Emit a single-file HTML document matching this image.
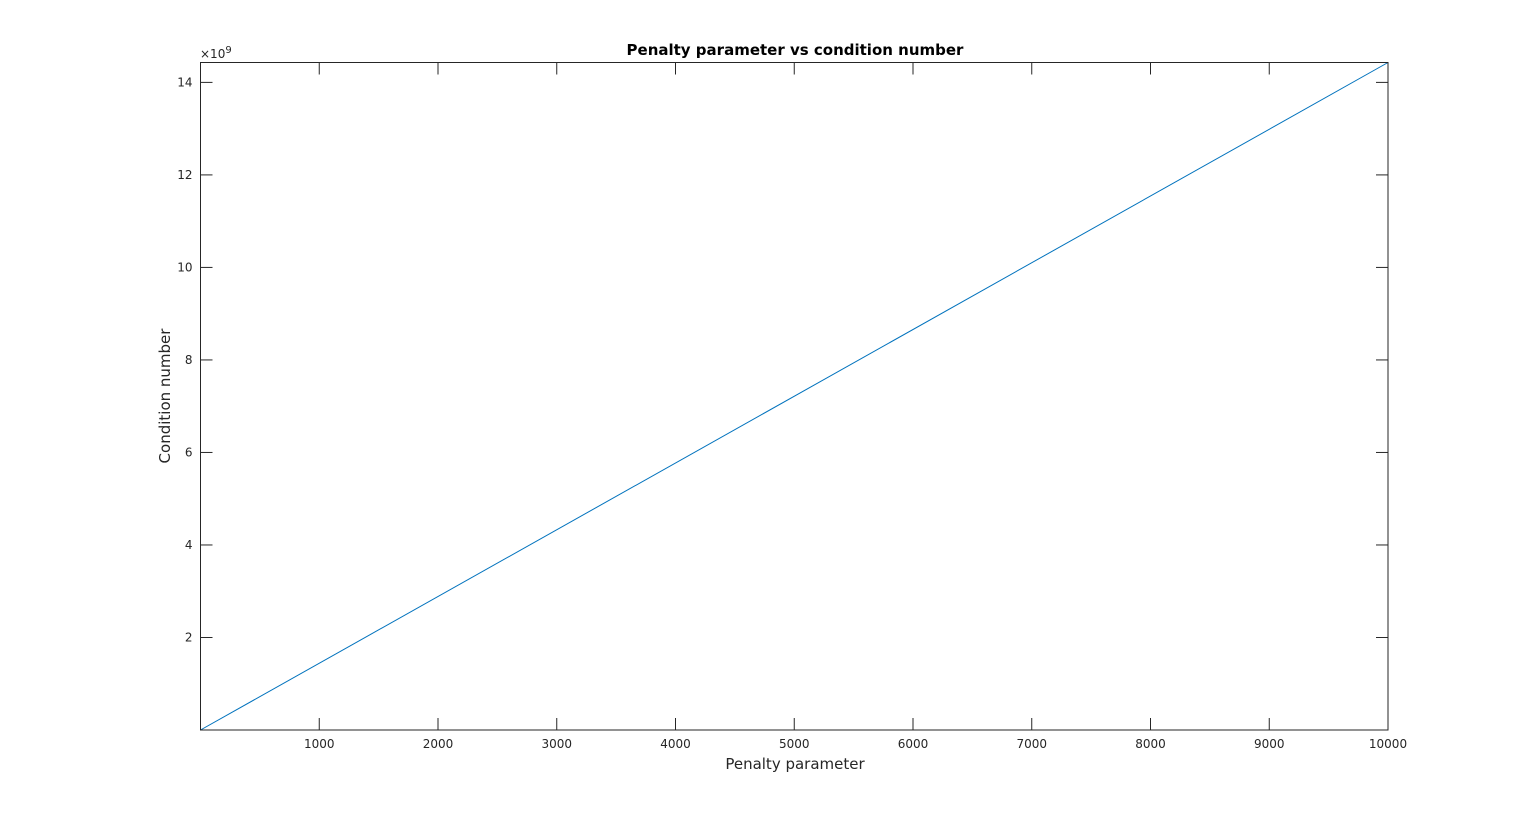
<!DOCTYPE html>
<html><head><meta charset="utf-8"><style>
html,body{margin:0;padding:0;background:#fff;}
svg{display:block;font-family:"DejaVu Sans","Liberation Sans",sans-serif;}
</style></head><body>
<svg id="chart" width="1535" height="821">
<rect width="1535" height="821" fill="#fff"/>
<text x="795" y="55" text-anchor="middle" font-size="15" font-weight="bold" fill="#000">Penalty parameter vs condition number</text>
<text x="795" y="769" text-anchor="middle" font-size="15" fill="#262626">Penalty parameter</text>
<text transform="translate(170,396) rotate(-90)" text-anchor="middle" font-size="15" fill="#262626">Condition number</text>
<text x="200" y="58" font-size="12" fill="#262626">×10<tspan dy="-5" font-size="10">9</tspan></text>
<g id="ticks"></g>
<g id="series"></g>
<rect x="200.5" y="62.5" width="1187.5" height="667.5" fill="none" stroke="#262626" stroke-width="1"/>
</svg>
<script>
const xTicks=[1000,2000,3000,4000,5000,6000,7000,8000,9000,10000];
const yTicks=[2,4,6,8,10,12,14];
const xVals=[0,10000];
const yVals=[0,14.43];
const L=200.5,R=1388,T=62.5,B=730;
const xMin=0,xMax=10000,yMin=0,yMax=14.43;
const sx=v=>L+(v-xMin)/(xMax-xMin)*(R-L);
const sy=v=>B-(v-yMin)/(yMax-yMin)*(B-T);
const NS='http://www.w3.org/2000/svg';
const tg=document.getElementById('ticks');
function mk(tag,attrs,parent){const e=document.createElementNS(NS,tag);for(const k in attrs)e.setAttribute(k,attrs[k]);parent.appendChild(e);return e;}
xTicks.forEach(v=>{
  const x=sx(v);
  const l1=mk('line',{x1:x,x2:x,y1:B,y2:B-12,stroke:'#262626'},tg);
  
  
  const l2=mk('line',{x1:x,x2:x,y1:T,y2:T+12,stroke:'#262626'},tg);
  
  
  const t=mk('text',{x:x,y:B+18,'text-anchor':'middle','font-size':'12',fill:'#262626'},tg);
  t.textContent=v;
  
  
});
yTicks.forEach(v=>{
  const y=sy(v);
  const l1=mk('line',{x1:L,x2:L+12,y1:y,y2:y,stroke:'#262626'},tg);
  
  
  const l2=mk('line',{x1:R,x2:R-12,y1:y,y2:y,stroke:'#262626'},tg);
  
  
  const t=mk('text',{x:L-8,y:y+4,'text-anchor':'end','font-size':'12',fill:'#262626'},tg);
  t.textContent=v;
  
  
});
const pts=xVals.map((v,i)=>sx(v)+','+sy(yVals[i])).join(' ');
const pl=mk('polyline',{points:pts,fill:'none',stroke:'#0072bd','stroke-width':'1'},document.getElementById('series'));


</script>
</body></html>
